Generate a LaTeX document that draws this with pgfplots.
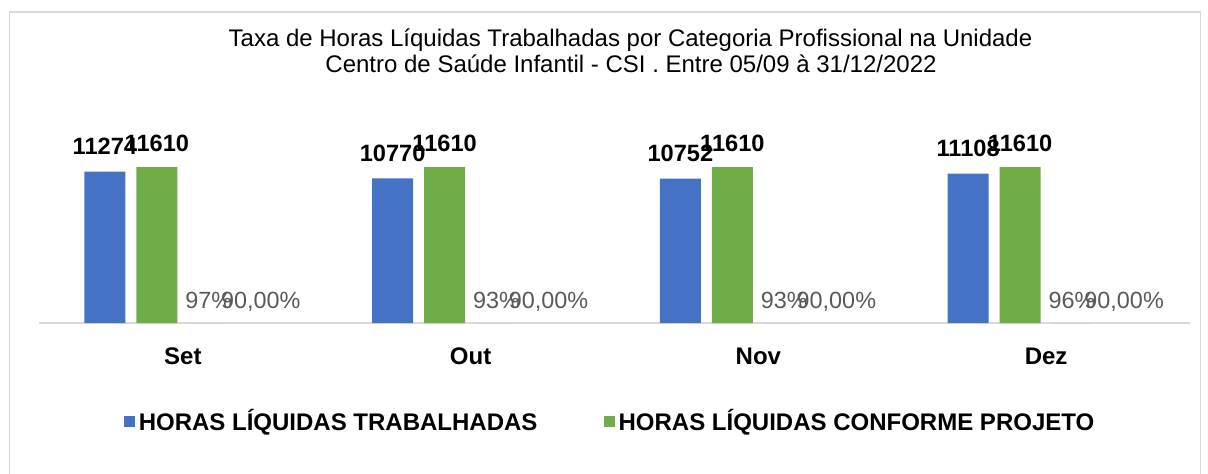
\documentclass[border=0pt]{standalone}
\usepackage{fontspec}
\setmainfont{Liberation Sans}
\usepackage{pgfplots}
\pgfplotsset{compat=1.18}

\definecolor{cblue}{HTML}{4472C4}
\definecolor{cgreen}{HTML}{70AD47}
\definecolor{lgray}{HTML}{D9D9D9}
\definecolor{tgray}{HTML}{595959}

\begin{document}
\begin{tikzpicture}[x=0.5pt,y=-0.5pt]
% chart frame
\draw[lgray, line width=0.75pt] (9.5,480) -- (9.5,12) -- (1200.5,12) -- (1200.5,480);
\node[font=\fontsize{12}{14}\selectfont, anchor=base] at (630.5,46)
  {Taxa de Horas Líquidas Trabalhadas por Categoria Profissional na Unidade};
\node[font=\fontsize{12}{14}\selectfont, anchor=base] at (631,72)
  {Centro de Saúde Infantil - CSI . Entre 05/09 à 31/12/2022};

\begin{axis}[
  at={(19.5pt,-161.5pt)}, anchor=south west,
  scale only axis, width=575.5pt, height=107.5pt,
  xmin=-0.5, xmax=3.5, ymin=0, ymax=16000,
  axis y line=none, axis x line*=bottom,
  x axis line style={lgray, line width=0.75pt, -},
  xtick={0,1,2,3}, xticklabels={Set,Out,Nov,Dez},
  xtick style={draw=none},
  xticklabel style={font=\bfseries\fontsize{12}{14}\selectfont, yshift=-4.5pt},
  ybar, bar width=20.5pt,
  clip=false,
  legend columns=2,
  legend style={at={(0.497,-0.456)}, anchor=center, draw=none,
    font=\bfseries\fontsize{12}{14}\selectfont,
    /tikz/every odd column/.append style={column sep=0pt},
    /tikz/every even column/.append style={column sep=31.5pt},
    nodes={inner xsep=1.8pt}},
]
\addplot[ybar, bar shift=-39pt, fill=cblue, draw=none,
  legend image code/.code={\fill[cblue] (0pt,-2.75pt) rectangle (5.5pt,2.75pt);},
  point meta=explicit symbolic, nodes near coords,
  every node near coord/.append style={font=\bfseries\fontsize{11.8}{13}\selectfont,
    text=black, anchor=base, yshift=8.5pt}]
  coordinates {(0,11274) [11274] (1,10770) [10770] (2,10752) [10752] (3,11108) [11108]};
\addlegendentry{HORAS LÍQUIDAS TRABALHADAS}
\addplot[ybar, bar shift=-13pt, fill=cgreen, draw=none,
  legend image code/.code={\fill[cgreen] (0pt,-2.75pt) rectangle (5.5pt,2.75pt);},
  point meta=explicit symbolic, nodes near coords,
  every node near coord/.append style={font=\bfseries\fontsize{11.8}{13}\selectfont,
    text=black, anchor=base, yshift=8pt}]
  coordinates {(0,11610) [11610] (1,11610) [11610] (2,11610) [11610] (3,11610) [11610]};
\addlegendentry{HORAS LÍQUIDAS CONFORME PROJETO}
\addplot[ybar, bar shift=13pt, fill=cblue!60, draw=none, forget plot,
  point meta=explicit symbolic, nodes near coords,
  every node near coord/.append style={font=\fontsize{11.7}{13}\selectfont,
    text=tgray, anchor=base, yshift=7.5pt}]
  coordinates {(0,0.97) [97\%] (1,0.93) [93\%] (2,0.93) [93\%] (3,0.96) [96\%]};
\addplot[ybar, bar shift=39pt, fill=cgreen!60, draw=none, forget plot,
  point meta=explicit symbolic, nodes near coords,
  every node near coord/.append style={font=\fontsize{11.7}{13}\selectfont,
    text=tgray, anchor=base, yshift=7.5pt}]
  coordinates {(0,0.9) [90{,}00\%] (1,0.9) [90{,}00\%] (2,0.9) [90{,}00\%] (3,0.9) [90{,}00\%]};
\end{axis}
\pgfresetboundingbox
\path (0,0) rectangle (1208,473);
\end{tikzpicture}
\end{document}
